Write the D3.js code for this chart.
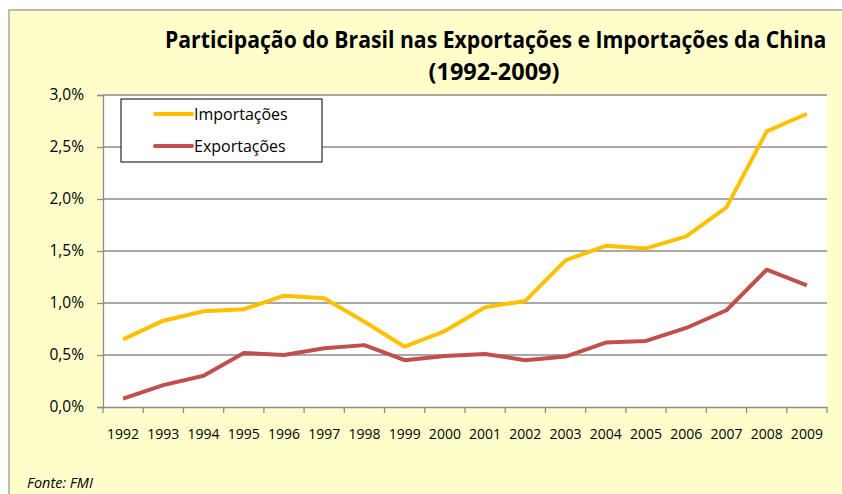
<!DOCTYPE html>
<html>
<head>
<meta charset="utf-8">
<script src="https://cdn.jsdelivr.net/npm/d3@7"></script>
<style>
  body { margin: 0; background: #fff; }
  svg { display: block; font-family: "Open Sans", "DejaVu Sans", sans-serif; }
</style>
</head>
<body>
<script>
// dados (% do total)
const years = ["1992","1993","1994","1995","1996","1997","1998","1999","2000",
               "2001","2002","2003","2004","2005","2006","2007","2008","2009"]
const importacoes = [0.65, 0.83, 0.92, 0.94, 1.07, 1.045, 0.82, 0.58, 0.73,
                     0.96, 1.02, 1.41, 1.55, 1.525, 1.64, 1.92, 2.65, 2.82]
const exportacoes = [0.08, 0.21, 0.30, 0.52, 0.50, 0.565, 0.595, 0.45, 0.49,
                     0.51, 0.45, 0.485, 0.62, 0.635, 0.76, 0.93, 1.32, 1.17]
const yTicks = [0, 0.5, 1.0, 1.5, 2.0, 2.5, 3.0]

const W = 842, H = 494
const plot = { left: 103, right: 827, top: 95, bottom: 407 }

const svg = d3.select("body").append("svg")
    .attr("width", W)
    .attr("height", H)

// fundo amarelo do gráfico
svg.append("rect")
    .attr("x", 9).attr("y", 10)
    .attr("width", W).attr("height", H)
    .attr("fill", "#ffffcc")
    .attr("stroke", "#a6a6a6")
    .attr("stroke-width", 1.5)

// área de plotagem branca
svg.append("rect")
    .attr("x", plot.left).attr("y", plot.top)
    .attr("width", plot.right - plot.left)
    .attr("height", plot.bottom - plot.top)
    .attr("fill", "#fff")

const x = d3.scaleBand()
    .domain(years)
    .range([plot.left, plot.right])

const y = d3.scaleLinear()
    .domain([0, 3])
    .range([plot.bottom, plot.top])

// linhas de grade
svg.append("g")
    .selectAll("line")
    .data(yTicks.filter(d => d > 0))
    .join("line")
    .attr("x1", plot.left).attr("x2", plot.right)
    .attr("y1", d => y(d)).attr("y2", d => y(d))
    .attr("stroke", "#8c8c8c")
    .attr("stroke-width", 1.3)

// eixo y
const yAxis = d3.axisLeft(y)
    .tickValues(yTicks)
    .tickSize(6)
    .tickPadding(13)
    .tickFormat(d => d3.format(".1f")(d).replace(".", ",") + "%")

svg.append("g")
    .attr("transform", `translate(${plot.left},0)`)
    .call(yAxis)
    .call(g => g.selectAll("line, path").attr("stroke", "#8c8c8c").attr("stroke-width", 1.3))
    .call(g => g.selectAll("text").attr("font-size", 15.5).attr("fill", "#000")
        .attr("font-family", "Open Sans, sans-serif"))

// eixo x com marcas entre categorias
const xAxis = d3.axisBottom(x)
    .tickSize(0)
    .tickPadding(22)

const gx = svg.append("g")
    .attr("transform", `translate(0,${plot.bottom})`)
    .call(xAxis)
gx.select("path").attr("stroke", "#8c8c8c").attr("stroke-width", 1.3)
gx.selectAll("text").attr("font-size", 14).attr("fill", "#000")
    .attr("font-family", "Open Sans, sans-serif")

gx.append("g")
    .selectAll("line")
    .data(years.concat(["end"]))
    .join("line")
    .attr("x1", (d, i) => plot.left + i * x.bandwidth())
    .attr("x2", (d, i) => plot.left + i * x.bandwidth())
    .attr("y1", 0).attr("y2", 6)
    .attr("stroke", "#8c8c8c")
    .attr("stroke-width", 1.3)

// séries
const series = [
    { name: "Importações", values: importacoes, color: "#ffc000" },
    { name: "Exportações", values: exportacoes, color: "#c0504d" }
]

const line = d3.line()
    .x((d, i) => x(years[i]) + x.bandwidth() / 2)
    .y(d => y(d))

svg.append("g")
    .selectAll("path")
    .data(series)
    .join("path")
    .attr("d", d => line(d.values))
    .attr("fill", "none")
    .attr("stroke", d => d.color)
    .attr("stroke-width", 4)
    .attr("stroke-linejoin", "round")

// legenda
const legend = svg.append("g")
legend.append("rect")
    .attr("x", 121).attr("y", 99)
    .attr("width", 201).attr("height", 63)
    .attr("fill", "#fff")
    .attr("stroke", "#000")
    .attr("stroke-width", 1)

const items = legend.selectAll("g.item")
    .data(series)
    .join("g")
    .attr("transform", (d, i) => `translate(0,${114 + i * 32})`)

items.append("line")
    .attr("x1", 155).attr("x2", 192)
    .attr("y1", 0).attr("y2", 0)
    .attr("stroke", d => d.color)
    .attr("stroke-width", 4)
    .attr("stroke-linecap", "round")

items.append("text")
    .attr("x", 194)
    .attr("y", 5.5)
    .attr("font-size", 16)
    .text(d => d.name)

// título: fonte larga comprimida na horizontal para caber como no original
function fitTitle(txt, cx, cy, width) {
    const t = svg.append("text")
        .attr("font-weight", "bold")
        .attr("font-size", 24)
        .attr("fill", "#000")
        .text(txt)
    const w = t.node().getComputedTextLength()
    const k = width / w
    t.attr("transform", `translate(${cx - width / 2},${cy}) scale(${k},1)`)
}
fitTitle("Participação do Brasil nas Exportações e Importações da China", 496, 48, 662)
fitTitle("(1992-2009)", 494, 80, 131)

// fonte
svg.append("text")
    .attr("x", 27).attr("y", 488)
    .attr("font-size", 14.5)
    .attr("font-style", "italic")
    .text("Fonte: FMI")
</script>
</body>
</html>
